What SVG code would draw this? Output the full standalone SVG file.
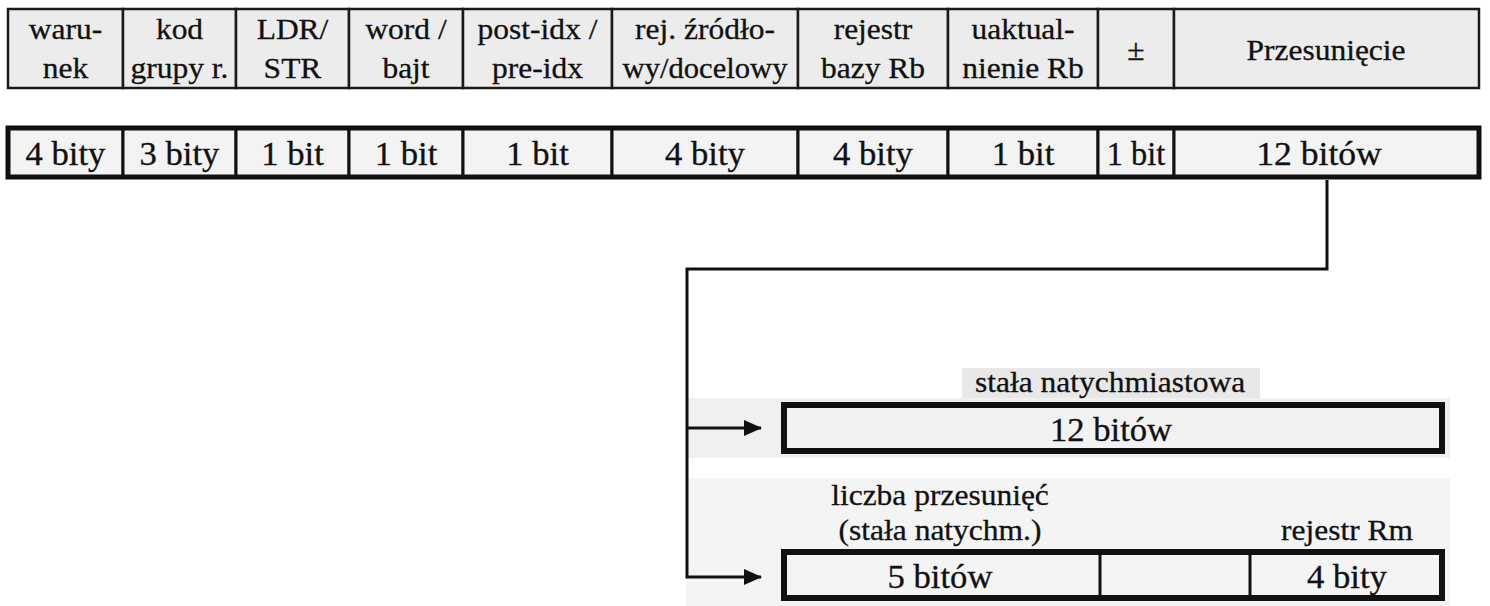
<svg xmlns="http://www.w3.org/2000/svg" width="1490" height="606" viewBox="0 0 1490 606">
<style>
text{font-family:"Liberation Serif","Times New Roman",serif;fill:#111;stroke:#111;stroke-width:0.3;text-anchor:middle}
.t{font-size:30px}
.b{font-size:33px}
.l{font-size:30px}
.cell{fill:#ececec;stroke:#1a1a1a;stroke-width:2.5}
.bcell{fill:#f3f3f3;stroke:#111;stroke-width:3}
.frame{fill:none;stroke:#111;stroke-width:5}
.conn{fill:none;stroke:#111;stroke-width:3}
</style>
<defs>
<marker id="ah" markerWidth="18" markerHeight="16" refX="17" refY="8" orient="auto" markerUnits="userSpaceOnUse">
<path d="M0,0 L18,8 L0,16 Z" fill="#111"/>
</marker>
</defs>
<rect width="1490" height="606" fill="#fff"/>
<g id="background">
<rect x="962" y="368" width="298" height="32" fill="#e8e8e8"/>
<rect x="686" y="398" width="764" height="60" fill="#f0f0f0"/>
<rect x="686" y="478" width="764" height="128" fill="#f4f4f4"/>
</g>
<g id="header">
<rect class="cell" x="8" y="9" width="115" height="79"/>
<text class="t" transform="translate(65.5,39) scale(1.05,1)">waru-</text>
<text class="t" transform="translate(65.5,78) scale(1.05,1)">nek</text>
<rect class="cell" x="123" y="9" width="113" height="79"/>
<text class="t" transform="translate(179.5,39) scale(1.05,1)">kod</text>
<text class="t" transform="translate(179.5,78) scale(1.05,1)">grupy r.</text>
<rect class="cell" x="236" y="9" width="113" height="79"/>
<text class="t" transform="translate(292.5,39) scale(1.05,1)">LDR/</text>
<text class="t" transform="translate(292.5,78) scale(1.05,1)">STR</text>
<rect class="cell" x="349" y="9" width="114" height="79"/>
<text class="t" transform="translate(406,39) scale(1.05,1)">word /</text>
<text class="t" transform="translate(406,78) scale(1.05,1)">bajt</text>
<rect class="cell" x="463" y="9" width="149" height="79"/>
<text class="t" transform="translate(537.5,39) scale(1.05,1)">post-idx /</text>
<text class="t" transform="translate(537.5,78) scale(1.05,1)">pre-idx</text>
<rect class="cell" x="612" y="9" width="186" height="79"/>
<text class="t" transform="translate(705,39) scale(1.05,1)">rej. źródło-</text>
<text class="t" transform="translate(705,78) scale(1.02,1)">wy/docelowy</text>
<rect class="cell" x="798" y="9" width="150" height="79"/>
<text class="t" transform="translate(873,39) scale(1.05,1)">rejestr</text>
<text class="t" transform="translate(873,78) scale(1.05,1)">bazy Rb</text>
<rect class="cell" x="948" y="9" width="150" height="79"/>
<text class="t" transform="translate(1023,39) scale(1.05,1)">uaktual-</text>
<text class="t" transform="translate(1023,78) scale(1.05,1)">nienie Rb</text>
<rect class="cell" x="1098" y="9" width="76" height="79"/>
<text class="t" transform="translate(1136,60) scale(1.05,1)">±</text>
<rect class="cell" x="1174" y="9" width="305" height="79"/>
<text class="t" transform="translate(1326,60) scale(1.05,1)">Przesunięcie</text>
</g>
<g id="bits">
<rect class="bcell" x="8" y="128" width="115" height="49"/>
<text class="b" transform="translate(65.5,165) scale(1.05,1)">4 bity</text>
<rect class="bcell" x="123" y="128" width="113" height="49"/>
<text class="b" transform="translate(179.5,165) scale(1.05,1)">3 bity</text>
<rect class="bcell" x="236" y="128" width="113" height="49"/>
<text class="b" transform="translate(292.5,165) scale(1.05,1)">1 bit</text>
<rect class="bcell" x="349" y="128" width="114" height="49"/>
<text class="b" transform="translate(406,165) scale(1.05,1)">1 bit</text>
<rect class="bcell" x="463" y="128" width="149" height="49"/>
<text class="b" transform="translate(537.5,165) scale(1.05,1)">1 bit</text>
<rect class="bcell" x="612" y="128" width="186" height="49"/>
<text class="b" transform="translate(705,165) scale(1.05,1)">4 bity</text>
<rect class="bcell" x="798" y="128" width="150" height="49"/>
<text class="b" transform="translate(873,165) scale(1.05,1)">4 bity</text>
<rect class="bcell" x="948" y="128" width="150" height="49"/>
<text class="b" transform="translate(1023,165) scale(1.05,1)">1 bit</text>
<rect class="bcell" x="1098" y="128" width="76" height="49"/>
<text class="b" transform="translate(1136,165) scale(0.98,1)">1 bit</text>
<rect class="bcell" x="1174" y="128" width="305" height="49"/>
<text class="b" transform="translate(1319,165) scale(1.08,1)">12 bitów</text>
<rect class="frame" x="8" y="128" width="1471" height="49"/>
</g>
<g id="connectors">
<polyline class="conn" points="1327,180 1327,269 687,269 687,577 761,577" marker-end="url(#ah)"/>
<line class="conn" x1="687" y1="428" x2="761" y2="428" marker-end="url(#ah)"/>
</g>
<g id="immediate">
<text class="l" transform="translate(1110,392) scale(1.05,1)">stała natychmiastowa</text>
<rect x="784" y="405" width="658" height="46" fill="#f2f2f2" stroke="#111" stroke-width="6"/>
<text class="b" transform="translate(1111,441) scale(1.05,1)">12 bitów</text>
</g>
<g id="shifted">
<text class="l" transform="translate(940,505) scale(1.05,1)">liczba przesunięć</text>
<text class="l" transform="translate(940,540) scale(1.05,1)">(stała natychm.)</text>
<text class="l" transform="translate(1347,540) scale(1.05,1)">rejestr Rm</text>
<rect x="784" y="552" width="658" height="46" fill="#f4f4f4" stroke="#111" stroke-width="6"/>
<line x1="1100" y1="552" x2="1100" y2="598" stroke="#111" stroke-width="3"/>
<line x1="1250" y1="552" x2="1250" y2="598" stroke="#111" stroke-width="3"/>
<text class="b" transform="translate(940,588) scale(1.05,1)">5 bitów</text>
<text class="b" transform="translate(1347,588) scale(1.05,1)">4 bity</text>
</g>
</svg>
